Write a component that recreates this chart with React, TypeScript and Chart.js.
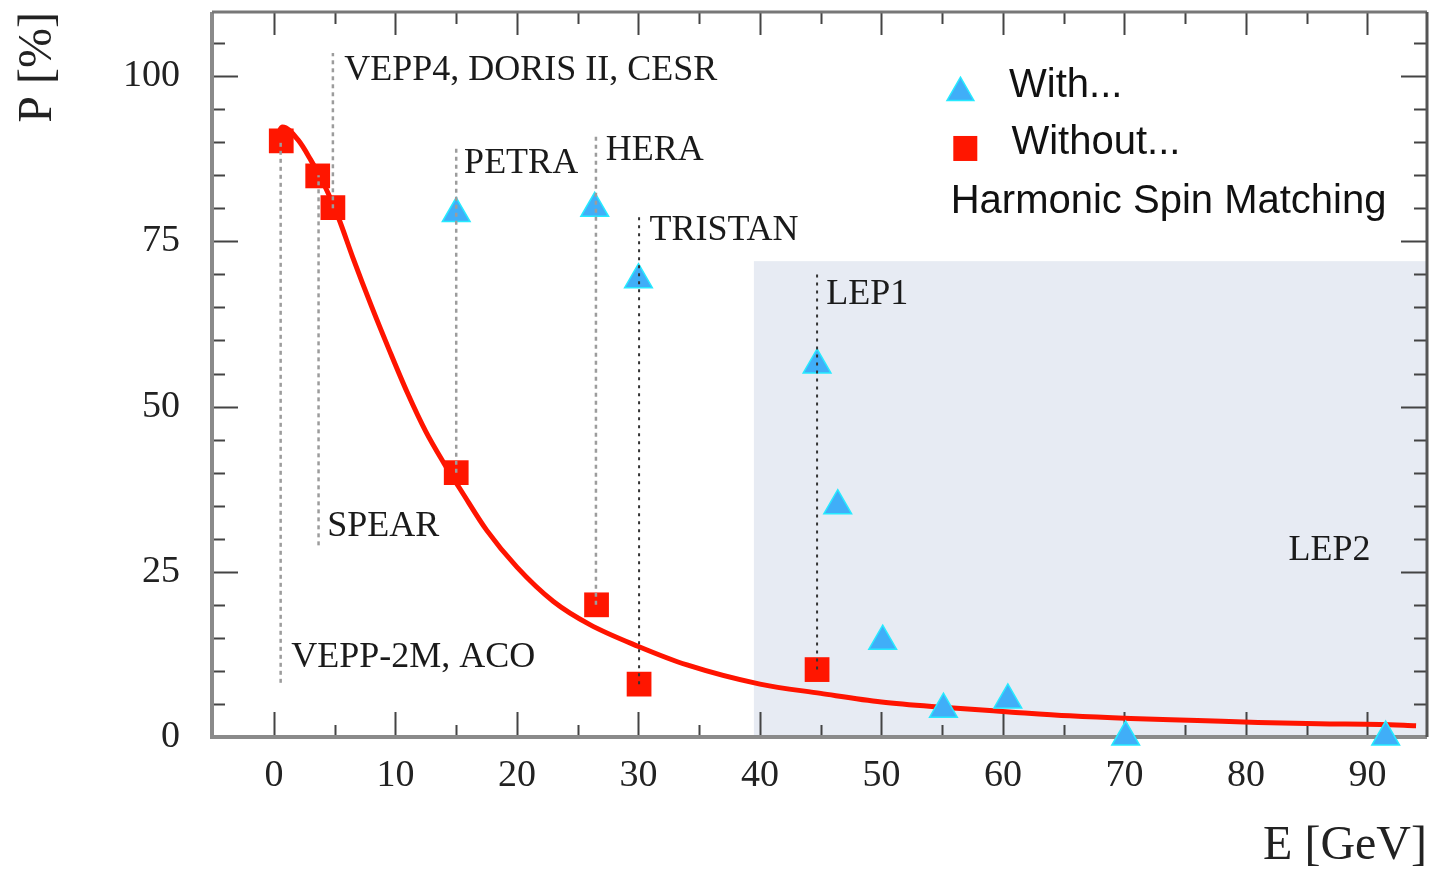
import React, { useEffect, useRef } from 'react';
import { Chart, registerables } from 'chart.js';

Chart.register(...registerables);

// Fitted curve (without harmonic spin matching)
const curveE = [0, 0.7, 2, 3, 4.2, 5.3, 6.5, 8, 9.5, 11, 12.5, 14, 15.5, 17.5, 20, 23, 26, 30, 34, 40, 45, 50, 55, 60.5, 65.5, 70.5, 76, 81, 86, 91, 94];
const curveP = [89.5, 92.3, 90.3, 87.4, 83.3, 78.6, 72.5, 65.3, 58.5, 52, 46.2, 41.4, 37, 31.3, 25.7, 20.5, 17, 13.7, 10.9, 8.0, 6.6, 5.3, 4.5, 3.8, 3.2, 2.8, 2.5, 2.2, 2.0, 1.9, 1.7];

// With harmonic spin matching (triangles)
const withE = [15, 26.4, 30, 44.7, 46.4, 50.1, 55.1, 60.4, 70.1, 91.5];
const withP = [79.2, 80, 69.2, 56.3, 35, 14.5, 4.2, 5.6, 0, 0];

// Without harmonic spin matching (squares)
const withoutE = [0.6, 3.6, 4.85, 15, 26.55, 30.05, 44.7];
const withoutP = [90.2, 84.9, 80.1, 40, 20, 8, 10.2];

// Machine marker lines
const lineE = [0.55, 3.67, 4.85, 15, 26.5, 30.05, 44.7];
const lineFrom = [8.2, 29, 80, 40, 20, 8, 10.2];
const lineTo = [90, 85, 103.5, 89.6, 91.4, 79.4, 70.2];
const lineDark = [false, false, false, false, false, true, true];

// Machine labels
const labelNames = ['VEPP-2M, ACO', 'SPEAR', 'VEPP4, DORIS II, CESR', 'PETRA', 'HERA', 'TRISTAN', 'LEP1', 'LEP2'];
const labelE = [1.42, 4.39, 5.78, 15.65, 27.3, 30.9, 45.46, 83.5];
const labelP = [12.0, 31.8, 100.8, 86.7, 88.7, 76.6, 66.9, 28.2];

// LEP2 shaded region
const shadeE = [39.5, 94.9];
const shadeP = [0, 72];

// Axes
const xMin = -5.1;
const xMax = 94.9;
const yMin = 0;
const yMax = 109.7;
const xTickValues = [0, 10, 20, 30, 40, 50, 60, 70, 80, 90];
const yTickValues = [0, 25, 50, 75, 100];
const xMinorValues = [0, 5, 10, 15, 20, 25, 30, 35, 40, 45, 50, 55, 60, 65, 70, 75, 80, 85, 90];
const yMinorValues = [0, 5, 10, 15, 20, 25, 30, 35, 40, 45, 50, 55, 60, 65, 70, 75, 80, 85, 90, 95, 100, 105];

// Legend
const legendTexts = ['With...', 'Without...', 'Harmonic Spin Matching'];
const legendTextE = [60.5, 60.7, 55.7];
const legendTextP = [98.5, 89.9, 80.9];
const legendMarkerE = [56.5, 56.9];
const legendMarkerP = [97.5, 89.05];

const SERIF = "'Liberation Serif', 'Times New Roman', serif";
const SANS = "'Liberation Sans', Arial, sans-serif";
const TRI_FILL = '#40aef8';
const TRI_BORDER = '#26eaff';
const SQ_FILL = '#ff1600';

function drawTriangle(ctx: CanvasRenderingContext2D, x: number, y: number, r: number) {
  ctx.beginPath();
  ctx.moveTo(x, y - r);
  ctx.lineTo(x + r * Math.sin(Math.PI * 2 / 3), y + r / 2);
  ctx.lineTo(x - r * Math.sin(Math.PI * 2 / 3), y + r / 2);
  ctx.closePath();
  ctx.fillStyle = TRI_FILL;
  ctx.fill();
  ctx.lineWidth = 1.5;
  ctx.strokeStyle = TRI_BORDER;
  ctx.stroke();
}

const framePlugin = {
  id: 'frame',
  beforeDatasetsDraw(chart: any) {
    const { ctx, chartArea, scales } = chart;
    const x = scales.x;
    const y = scales.y;
    ctx.save();
    // shaded LEP2 region
    const sx0 = x.getPixelForValue(shadeE[0]);
    const sx1 = x.getPixelForValue(shadeE[1]);
    const sy0 = y.getPixelForValue(shadeP[1]);
    const sy1 = y.getPixelForValue(shadeP[0]);
    ctx.fillStyle = '#e7ebf3';
    ctx.fillRect(sx0, sy0, sx1 - sx0, sy1 - sy0);

    const { left, right, top, bottom } = chartArea;
    // ticks
    ctx.strokeStyle = '#444';
    ctx.lineWidth = 2;
    ctx.beginPath();
    xMinorValues.forEach((v) => {
      const px = Math.round(x.getPixelForValue(v)) + 0.5;
      const len = v % 10 === 0 ? 25 : 12;
      ctx.moveTo(px, bottom);
      ctx.lineTo(px, bottom - len);
      const lenT = v % 10 === 0 ? 23 : 12;
      ctx.moveTo(px, top);
      ctx.lineTo(px, top + lenT);
    });
    yMinorValues.forEach((v) => {
      const py = Math.round(y.getPixelForValue(v)) + 0.5;
      const len = v % 25 === 0 ? 26 : 13;
      ctx.moveTo(left, py);
      ctx.lineTo(left + len, py);
      ctx.moveTo(right, py);
      ctx.lineTo(right - len, py);
    });
    ctx.stroke();

    // frame
    ctx.lineWidth = 4;
    ctx.strokeStyle = '#8a8a8a';
    ctx.beginPath();
    ctx.moveTo(left, top);
    ctx.lineTo(left, bottom);
    ctx.lineTo(right, bottom);
    ctx.stroke();
    ctx.lineWidth = 3;
    ctx.strokeStyle = '#777';
    ctx.beginPath();
    ctx.moveTo(left, top);
    ctx.lineTo(right, top);
    ctx.stroke();
    ctx.strokeStyle = '#555';
    ctx.beginPath();
    ctx.moveTo(right, top);
    ctx.lineTo(right, bottom);
    ctx.stroke();
    ctx.restore();
  },
  afterDatasetsDraw(chart: any) {
    const { ctx, scales } = chart;
    const x = scales.x;
    const y = scales.y;
    ctx.save();
    // machine labels
    ctx.font = `36px ${SERIF}`;
    ctx.fillStyle = '#1a1a1a';
    ctx.textAlign = 'left';
    ctx.textBaseline = 'middle';
    labelNames.forEach((t, i) => {
      ctx.fillText(t, x.getPixelForValue(labelE[i]), y.getPixelForValue(labelP[i]));
    });

    // legend
    drawTriangle(ctx, x.getPixelForValue(legendMarkerE[0]), y.getPixelForValue(legendMarkerP[0]), 15.5);
    const sqx = x.getPixelForValue(legendMarkerE[1]);
    const sqy = y.getPixelForValue(legendMarkerP[1]);
    ctx.fillStyle = SQ_FILL;
    ctx.fillRect(sqx - 12, sqy - 12.5, 24, 25);
    ctx.font = `40px ${SANS}`;
    ctx.fillStyle = '#111';
    legendTexts.forEach((t, i) => {
      ctx.fillText(t, x.getPixelForValue(legendTextE[i]), y.getPixelForValue(legendTextP[i]));
    });
    ctx.restore();
  },
};

function zeroPadding(s: any) {
  s.paddingTop = 0;
  s.paddingBottom = 0;
  s.paddingLeft = 0;
  s.paddingRight = 0;
}

export default function App() {
  const ref = useRef<HTMLCanvasElement>(null);

  useEffect(() => {
    const canvas = ref.current;
    if (!canvas) return;

    const lineSets = lineE.map((e, i) => ({
      type: 'line' as const,
      data: [
        { x: e, y: lineFrom[i] },
        { x: e, y: lineTo[i] },
      ],
      borderColor: lineDark[i] ? '#333' : '#9c9c9c',
      borderWidth: lineDark[i] ? 2 : 2.5,
      borderDash: lineDark[i] ? [3, 5] : [4, 4],
      pointRadius: 0,
      showLine: true,
      fill: false,
      order: 0,
    }));

    const chart = new Chart(canvas, {
      type: 'scatter',
      data: {
        datasets: [
          ...lineSets,
          {
            label: 'With...',
            data: withE.map((e, i) => ({ x: e, y: withP[i] })),
            pointStyle: 'triangle',
            pointRadius: 16,
            backgroundColor: TRI_FILL,
            borderColor: TRI_BORDER,
            borderWidth: 1.5,
            clip: false,
            order: 1,
          },
          {
            label: 'Without...',
            data: withoutE.map((e, i) => ({ x: e, y: withoutP[i] })),
            pointStyle: 'rect',
            pointRadius: 17.5,
            backgroundColor: SQ_FILL,
            borderColor: SQ_FILL,
            borderWidth: 0,
            clip: false,
            order: 2,
          },
          {
            type: 'line',
            label: 'fit',
            data: curveE.map((e, i) => ({ x: e, y: curveP[i] })),
            borderColor: '#ff1400',
            borderWidth: 5,
            pointRadius: 0,
            showLine: true,
            fill: false,
            cubicInterpolationMode: 'monotone',
            order: 3,
          },
        ] as any,
      },
      options: {
        animation: false,
        responsive: true,
        maintainAspectRatio: false,
        layout: { autoPadding: false, padding: { top: 12, right: 3, left: 0, bottom: 0 } },
        plugins: {
          legend: { display: false },
          tooltip: { enabled: false },
        },
        scales: {
          x: {
            type: 'linear',
            min: xMin,
            max: xMax,
            grid: { display: false, drawTicks: false },
            border: { display: false },
            ticks: {
              font: { family: SERIF, size: 38 },
              color: '#222',
              padding: 16,
              maxRotation: 0,
              autoSkip: false,
              callback: (v: any) => String(v),
            },
            afterBuildTicks: (s: any) => {
              s.ticks = xTickValues.map((v) => ({ value: v }));
            },
            afterFit: (s: any) => {
              s.height = 136;
              zeroPadding(s);
            },
            title: {
              display: true,
              text: 'E [GeV]',
              align: 'end',
              font: { family: SERIF, size: 48 },
              color: '#222',
              padding: { top: 0, bottom: -2 },
            },
          },
          y: {
            type: 'linear',
            min: yMin,
            max: yMax,
            grid: { display: false, drawTicks: false },
            border: { display: false },
            ticks: {
              font: { family: SERIF, size: 38 },
              color: '#222',
              padding: 32,
              autoSkip: false,
              callback: (v: any) => String(v),
            },
            afterBuildTicks: (s: any) => {
              s.ticks = yTickValues.map((v) => ({ value: v }));
            },
            afterFit: (s: any) => {
              s.width = 212;
              zeroPadding(s);
            },
            title: {
              display: true,
              text: 'P [%]',
              align: 'end',
              font: { family: SERIF, size: 48 },
              color: '#222',
              padding: { top: 10, bottom: 0 },
            },
          },
        },
      } as any,
      plugins: [framePlugin as any],
    });

    return () => chart.destroy();
  }, []);

  return (
    <div style={{ position: 'fixed', left: 0, top: 0, width: 1430, height: 873, background: '#fff' }}>
      <canvas ref={ref} />
    </div>
  );
}
